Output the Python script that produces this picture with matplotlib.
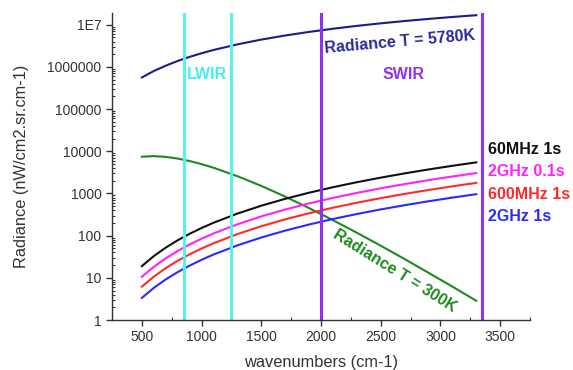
import matplotlib
matplotlib.use("Agg")
import matplotlib.pyplot as plt
from matplotlib.ticker import FixedLocator, FixedFormatter, LogLocator, NullFormatter, MultipleLocator

plt.rcParams['font.family'] = ['Liberation Sans', 'DejaVu Sans']

wavenumbers = [500, 600, 700, 800, 900, 1000, 1100, 1300, 1500, 1700, 1900, 2100, 2300, 2500,
               2700, 2900, 3100, 3300]
sun_5780K = [5.62e5, 7.99e5, 1.07e6, 1.384e6, 1.73e6, 2.107e6, 2.52e6, 3.42e6, 4.44e6, 5.55e6,
             6.75e6, 8.03e6, 9.38e6, 1.078e7, 1.223e7, 1.372e7, 1.525e7, 1.68e7]
body_300K = [7443, 7670, 7372, 6719, 5873, 4961, 4075, 2569, 1511, 842, 450, 233, 117.3, 57.7,
             27.9, 13.2, 6.2, 2.86]
n_60MHz_1s = [19, 32.8, 52.1, 77.8, 110.8, 152, 202.3, 333.9, 513, 746.8, 1042.6, 1407.7,
              1849.4, 2375, 2991.8, 3707.1, 4528.2, 5462.4]
n_2GHz_01s = [10.6, 18.3, 29.1, 43.4, 61.8, 84.8, 112.9, 186.3, 286.2, 416.6, 581.6, 785.3,
              1031.8, 1325, 1669.1, 2068.2, 2526.3, 3047.5]
n_600MHz_1s = [6.2, 10.7, 17.0, 25.4, 36.2, 49.6, 66.0, 109.0, 167.4, 243.7, 340.2, 459.3,
               603.5, 775, 976.3, 1209.7, 1477.6, 1782.5]
n_2GHz_1s = [3.35, 5.79, 9.19, 13.7, 19.5, 26.8, 35.7, 58.9, 90.5, 131.7, 183.8, 248.2, 326.1,
             418.8, 527.5, 653.6, 798.4, 963.1]

lwir_bounds = [850, 1250]
swir_bounds = [2000, 3350]

ytick_vals = [1, 10, 100, 1000, 10000, 100000, 1000000, 1e7]
ytick_labels = ['1', '10', '100', '1000', '10000', '100000', '1000000', '1E7']
xtick_vals = [500, 1000, 1500, 2000, 2500, 3000, 3500]

series_labels = ['60MHz 1s', '2GHz 0.1s', '600MHz 1s', '2GHz 1s']
series_colors = ['#111111', '#ff22ff', '#ff2a2a', '#2a2aff']

fig = plt.figure(figsize=(5.73, 3.70), dpi=100)
ax = fig.add_axes([0.1955, 0.135, 0.7295, 0.83])

ax.set_yscale('log')
ax.set_xlim(250, 3750)
ax.set_ylim(1, 1.9e7)

lw = 1.5
ax.plot(wavenumbers, sun_5780K, color='#1c1c8c', lw=lw)
ax.plot(wavenumbers, body_300K, color='#1e8a1e', lw=lw)
for vals, c in zip([n_60MHz_1s, n_2GHz_01s, n_600MHz_1s, n_2GHz_1s], series_colors):
    ax.plot(wavenumbers, vals, color=c, lw=lw)

for x in lwir_bounds:
    ax.axvline(x, color='#55f0f0', lw=2.2)
for x in swir_bounds:
    ax.axvline(x, color='#9030f0', lw=2.2)

for s in ['top', 'right']:
    ax.spines[s].set_visible(False)
for s in ['left', 'bottom']:
    ax.spines[s].set_color('#333333')
    ax.spines[s].set_linewidth(1.0)

ax.yaxis.set_major_locator(FixedLocator(ytick_vals))
ax.yaxis.set_major_formatter(FixedFormatter(ytick_labels))
ax.yaxis.set_minor_locator(LogLocator(base=10, subs=range(2, 10), numticks=20))
ax.yaxis.set_minor_formatter(NullFormatter())
ax.xaxis.set_major_locator(FixedLocator(xtick_vals))
ax.xaxis.set_minor_locator(MultipleLocator(250))

ax.tick_params(which='major', direction='out', length=4, width=1, color='#333333',
               labelsize=10, labelcolor='#333333')
ax.tick_params(which='minor', direction='in', length=2.5, width=0.8, color='#333333')

ax.set_xlabel('wavenumbers (cm-1)', fontsize=11.8, color='#333333')
ax.set_ylabel('Radiance (nW/cm2.sr.cm-1)', fontsize=11.8, color='#333333')
ax.xaxis.set_label_coords(0.5, -0.115)
ax.yaxis.set_label_coords(-0.198, 0.5)

ax.text(1045, 6.6e5, 'LWIR', color='#44eeee', fontsize=11.5, fontweight='bold',
        ha='center', va='center')
ax.text(2688, 6.6e5, 'SWIR', color='#9030f0', fontsize=11.5, fontweight='bold',
        ha='center', va='center')
ax.text(2663, 4.0e6, 'Radiance T = 5780K', color='#2a2a99', fontsize=11.5, fontweight='bold',
        ha='center', va='center', rotation=5)
ax.text(2621, 14.6, 'Radiance T = 300K', color='#1e8a1e', fontsize=11.5, fontweight='bold',
        ha='center', va='center', rotation=-32)

label_y = [10900, 3276, 931, 280]
for lab, c, yv in zip(series_labels, series_colors, label_y):
    ax.text(3395, yv, lab, color=c, fontsize=11.5, fontweight='bold', ha='left', va='center')

fig.savefig('out.png', dpi=100)
